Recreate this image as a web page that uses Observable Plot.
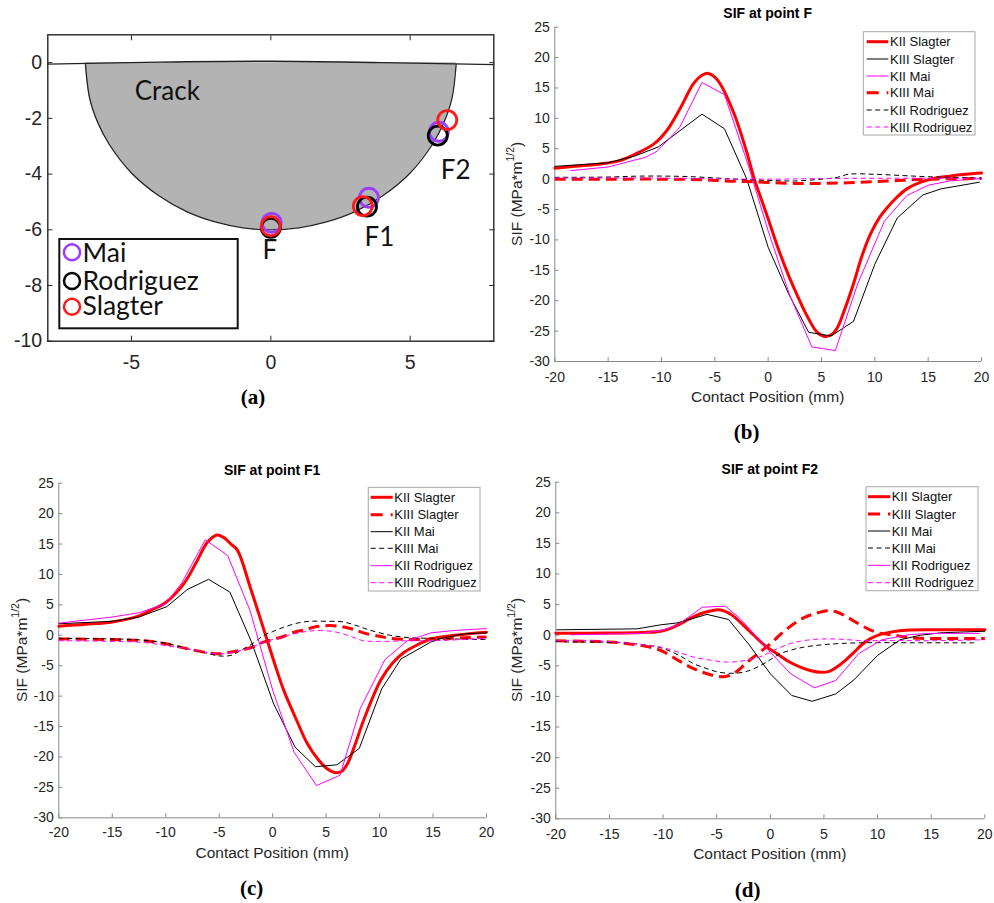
<!DOCTYPE html>
<html><head><meta charset="utf-8">
<script src="https://cdn.jsdelivr.net/npm/d3@7"></script>
<script src="https://cdn.jsdelivr.net/npm/@observablehq/plot@0.6"></script>
<style>
body{margin:0;background:#fff;}
#root{position:relative;width:994px;height:903px;overflow:hidden;background:#fff;}
.panel{position:absolute;}
.cap{position:absolute;font-family:"Liberation Serif","DejaVu Serif",serif;font-weight:bold;font-size:21px;line-height:1;transform:translate(-50%,-50%);color:#000;white-space:nowrap;}
</style></head><body><div id="root"></div>
<script>
// ---------------- DATA ----------------
// Panel (a): crack geometry and evaluation points
const aXTicks = [-5, 0, 5];
const aYTicks = [0, -2, -4, -6, -8, -10];
const crackX = [-6.65,-6.5,-6.2,-5.8,-5,-4,-3,-2,-1,0,1,2,3,4,5,5.8,6.2,6.5,6.65];
const crackY = [-0.05,-1.27,-2.17,-2.93,-3.96,-4.79,-5.36,-5.72,-5.93,-6.0,-5.93,-5.72,-5.36,-4.79,-3.96,-2.93,-2.17,-1.27,-0.05];
const surfaceX = [-8, -4, 0, 4, 8];
const surfaceY = [-0.05, 0.02, 0.05, 0.0, -0.07];
const pointNames = ["F", "F1", "F2"];
const maiX = [0.03, 3.52, 6.03],  maiY = [-5.75, -4.85, -2.48];
const rodX = [0.0, 3.45, 5.99],   rodY = [-5.93, -5.17, -2.62];
const slaX = [0.0, 3.3, 6.33],    slaY = [-5.87, -5.15, -2.06];
const pointLabelX = [-0.03, 3.9, 6.63];
const pointLabelY = [-6.74, -6.27, -3.86];
const crackLabel = ["Crack"], crackLabelX = [-4.88], crackLabelY = [-1.03];
const aLegendNames = ["Mai", "Rodriguez", "Slagter"];

// Panels (b)-(d): SIF vs contact position
const sifXTicks = [-20,-15,-10,-5,0,5,10,15,20];
const sifYTicks = [25,20,15,10,5,0,-5,-10,-15,-20,-25,-30];
const bNames = ["KII Slagter","KIII Slagter","KII Mai","KIII Mai","KII Rodriguez","KIII Rodriguez"];
const cdNames = ["KII Slagter","KIII Slagter","KII Mai","KIII Mai","KII Rodriguez","KIII Rodriguez"];
const titles = ["SIF at point F", "SIF at point F1", "SIF at point F2"];

// (b) point F
const b_KII_Slagter = [[-20,1.8],[-17.5,2.2],[-15.7,2.5],[-14,3.0],[-12.6,4.0],[-10.7,5.8],[-9.5,8.0],[-8.2,11.8],[-7,15.7],[-6.2,17.1],[-5.6,17.4],[-5.0,16.8],[-4.5,15.7],[-3.2,10.8],[-2.0,4.4],[-1.3,0],[-0.7,-3],[0,-6.5],[1,-11.7],[2,-16.2],[2.7,-19.0],[3.5,-22.0],[4.6,-25.2],[5.4,-25.9],[6,-25.5],[6.5,-24.4],[7.2,-21.3],[8,-17.2],[8.8,-12.6],[9.6,-9.0],[10.4,-6.4],[11.2,-4.6],[12,-3.1],[13,-1.6],[14.3,-0.5],[15.5,0.1],[17,0.5],[18.5,0.8],[20,1.0]];
const b_KIII_Slagter = [[-20,2.1],[-15,2.7],[-12.5,3.8],[-10.3,5.3],[-6.2,10.7],[-4.1,8.3],[-2.0,0.0],[0,-11.2],[1.9,-18.8],[3.8,-25.2],[5.9,-25.8],[8.0,-23.4],[10.0,-14.0],[12.1,-6.4],[14.5,-2.6],[16.2,-1.6],[19.8,-0.5]];
const b_KII_Mai = [[-18.5,1.4],[-15,2.0],[-11.5,3.6],[-10.4,4.6],[-8.3,8.5],[-6.2,15.9],[-4.1,13.9],[-2.0,3.0],[0,-8.5],[2.0,-19.0],[4.1,-27.6],[6.3,-28.2],[8.4,-17.2],[10.9,-6.9],[13.0,-2.7],[15.0,-1.0],[17,-0.3],[20,0.1]];
const b_KIII_Mai = [[-20,0.0],[-15,0.0],[-10,0.0],[-6,-0.1],[-4,-0.3],[-2,-0.4],[0,-0.55],[2.5,-0.7],[5,-0.7],[7.5,-0.6],[10,-0.4],[12.5,-0.2],[15,0.0],[20,0.1]];
const b_KII_Rodriguez = [[-20,0.3],[-15,0.35],[-12,0.5],[-8,0.45],[-5,0.2],[-3,0.0],[0,-0.2],[2.5,-0.3],[5,0.0],[6.5,0.3],[7.5,0.8],[10,0.8],[12.5,0.6],[15,0.4],[20,0.2]];
const b_KIII_Rodriguez = [[-20,0.2],[-15,0.2],[-10,0.15],[-5,0.05],[0,0.0],[5,0.1],[10,0.15],[15,0.15],[20,0.15]];

// (c) point F1
const c_KII_Slagter = [[-20,1.5],[-17.5,1.8],[-15,2.2],[-12.5,3.2],[-11.4,4.1],[-10,5.4],[-8.3,8.5],[-7.05,12.3],[-6.1,15.3],[-5.2,16.5],[-4.6,16.1],[-3.9,15.0],[-3.3,14.0],[-2.1,7.9],[-0.8,0.8],[0.4,-5.8],[1.05,-9.1],[2.2,-13.8],[3.24,-17.8],[4.2,-20.3],[5.1,-21.95],[5.9,-22.6],[6.5,-22.3],[7.0,-21.1],[7.7,-18.0],[8.5,-14.0],[10.1,-7.4],[11.2,-4.6],[12.3,-2.8],[13.5,-1.6],[14.8,-0.6],[17,0.0],[20,0.5]];
const c_KIII_Slagter = [[-20,-0.6],[-15,-0.7],[-12,-0.9],[-10,-1.4],[-8,-2.2],[-6,-2.9],[-5,-3.05],[-4,-2.8],[-2,-2.0],[-1,-1.2],[0,-0.7],[1,-0.2],[2,0.5],[3,0.9],[4,1.4],[5.4,1.6],[6.5,1.4],[7.5,1.0],[8.5,0.4],[10.1,-0.2],[11,-0.5],[13,-0.7],[15,-0.6],[18,-0.4],[20,-0.3]];
const c_KII_Mai = [[-20,1.9],[-15,2.3],[-12.5,3.0],[-9.9,4.7],[-8,7.5],[-6.0,9.2],[-4.0,7.1],[-2.0,-1.0],[0.1,-11.3],[2.1,-18.4],[4.0,-21.6],[6.0,-21.3],[8.1,-18.6],[10.2,-8.8],[12.0,-3.9],[14.8,-1.1],[16,-0.4],[18,0.25],[20,0.4]];
const c_KIII_Mai = [[-20,-0.5],[-15,-0.6],[-12.5,-0.75],[-10,-1.3],[-8,-2.2],[-6,-3.0],[-5,-3.4],[-3.9,-3.3],[-3,-2.5],[-2,-1.5],[-0.8,0.0],[0,0.6],[1,1.3],[2.3,2.0],[3.5,2.3],[5,2.3],[6.6,2.2],[8,1.5],[9,0.9],[11,0.0],[12.9,-0.4],[15,-0.5],[17,-0.6],[20,-0.7]];
const c_KII_Rodriguez = [[-20,2.0],[-15,3.0],[-12.5,3.7],[-10,5.2],[-8.5,8.6],[-6.3,15.7],[-4.2,13.1],[-2.1,4.0],[0,-9.0],[2.0,-19.2],[4.1,-24.7],[6.3,-23.0],[8.2,-12.0],[10.5,-4.0],[12.6,-0.9],[14.8,0.4],[17,0.8],[20,1.1]];
const c_KIII_Rodriguez = [[-20,-0.9],[-15,-1.0],[-12,-1.2],[-10,-1.7],[-8,-2.2],[-6,-2.9],[-5,-3.05],[-4,-2.9],[-2,-2.0],[-1,-1.2],[0,-0.7],[2,0.25],[3.5,0.7],[4.5,0.8],[6,0.5],[7.5,-0.3],[8.5,-0.9],[10,-1.0],[12.9,-0.9],[15,-0.9],[20,-0.5]];

// (d) point F2
const d_KII_Slagter = [[-20,0.33],[-15,0.35],[-12,0.45],[-10.2,0.65],[-9.3,1.1],[-8.4,1.86],[-7.5,2.7],[-6.5,3.5],[-5.5,4.0],[-4.8,4.15],[-4.2,3.9],[-3.5,3.2],[-2.5,1.6],[-1.5,-0.05],[-0.5,-1.7],[0.6,-3.0],[1.7,-4.3],[2.8,-5.2],[3.8,-5.8],[4.7,-6.05],[5.5,-5.9],[6.2,-5.2],[7.0,-4.1],[7.8,-2.8],[8.5,-1.6],[9.3,-0.6],[10.2,0.1],[11.2,0.5],[13,0.85],[15,0.9],[20,0.9]];
const d_KIII_Slagter = [[-20,-0.9],[-17,-1.0],[-15,-1.1],[-12,-1.7],[-10.2,-2.5],[-8.5,-4.2],[-7.1,-5.5],[-5.5,-6.5],[-4.2,-6.75],[-3.2,-6.0],[-2.15,-4.4],[-1,-2.8],[0,-1.4],[1,0.2],[2.2,1.86],[3.2,2.9],[4.1,3.5],[5.3,4.0],[6.2,3.8],[7.2,2.94],[8.3,1.8],[9.3,0.88],[10.3,0.3],[11.5,0.06],[12.5,-0.3],[14,-0.5],[17,-0.55],[20,-0.55]];
const d_KII_Mai = [[-19.9,0.88],[-12.4,1.04],[-10.2,1.7],[-8.7,2.0],[-5.9,3.4],[-3.9,2.57],[-2.0,-1.5],[0,-6.3],[2.0,-9.85],[3.9,-10.8],[6.1,-9.6],[7.8,-7.3],[10.0,-3.3],[12.1,-0.75],[14,0.0],[16,0.4],[20,0.65]];
const d_KIII_Mai = [[-20,-1.0],[-18.9,-1.1],[-15,-1.15],[-12.5,-1.4],[-10.2,-2.06],[-8.5,-3.3],[-7.1,-4.7],[-6,-5.4],[-4.8,-6.05],[-3.1,-6.2],[-2,-5.8],[-0.9,-4.95],[0,-4.0],[0.95,-3.0],[2,-2.4],[3.1,-1.96],[5.3,-1.5],[8.4,-1.24],[13,-1.24],[19,-1.25]];
const d_KII_Rodriguez = [[-18.6,0.06],[-15,0.2],[-12,0.3],[-10.2,0.77],[-8.7,1.6],[-6.35,4.57],[-4.2,4.74],[-2.8,2.7],[0,-2.8],[1.9,-6.3],[4.1,-8.6],[6.1,-7.4],[8.25,-3.0],[10.4,-0.75],[13,0.1],[15,0.3],[19.5,0.3]];
const d_KIII_Rodriguez = [[-20,-0.9],[-16.5,-0.9],[-13.3,-1.3],[-10.2,-1.96],[-8.5,-2.8],[-7.1,-3.6],[-5.5,-4.1],[-4,-4.4],[-3,-4.3],[-1.5,-3.85],[0,-2.8],[0.65,-2.2],[1.8,-1.4],[2.8,-0.98],[4,-0.7],[5.3,-0.6],[6.5,-0.65],[8.4,-0.87],[11.5,-0.87],[15,-0.9],[20,-0.75]];

// ---------------- STYLES / LAYOUT ----------------
const AXIS_GRAY = "#8a8a8a";
const TEXT = "#262626";
const SANS = "'Liberation Sans', Arial, sans-serif";
const fmt = d => String(d);
const ST = {
  redThick:   {stroke:"#ff0000", strokeWidth:3, curve:"catmull-rom", strokeLinecap:"round"},
  redDash:    {stroke:"#ff0000", strokeWidth:3, curve:"catmull-rom", strokeDasharray:"11,6", strokeLinecap:"butt", legendDash:"12,8"},
  black:      {stroke:"#000000", strokeWidth:1},
  blackDash:  {stroke:"#000000", strokeWidth:1, curve:"catmull-rom", strokeDasharray:"5,3.5", strokeLinecap:"butt", legendDash:"5,3.5"},
  magenta:    {stroke:"#ff00ff", strokeWidth:1},
  magentaDash:{stroke:"#ff00ff", strokeWidth:1, curve:"catmull-rom", strokeDasharray:"5,3.5", strokeLinecap:"butt", legendDash:"5,3.5"}
};
const bStyles = [ST.redThick, ST.black, ST.magenta, ST.redDash, ST.blackDash, ST.magentaDash];
const cdStyles = [ST.redThick, ST.redDash, ST.black, ST.blackDash, ST.magenta, ST.magentaDash];

const root = document.getElementById("root");
function place(el, left, top, w, h) {
  const div = document.createElement("div");
  div.className = "panel";
  div.style.left = left + "px"; div.style.top = top + "px";
  div.style.width = w + "px"; div.style.height = h + "px";
  div.appendChild(el); root.appendChild(div);
}
function caption(txt, cx, cy) {
  const d = document.createElement("div");
  d.className = "cap"; d.textContent = txt;
  d.style.left = cx + "px"; d.style.top = cy + "px";
  root.appendChild(d);
}

// ---------------- PANEL (a) ----------------
(function () {
  const crack = crackX.map((x, i) => ({x, y: crackY[i]}));
  const surf = surfaceX.map((x, i) => ({x, y: surfaceY[i]}));
  const pts = (X, Y) => X.map((x, i) => ({x, y: Y[i]}));
  const W = 497, H = 420;
  const svg = Plot.plot({
    width: W, height: H,
    marginLeft: 47.3, marginRight: 3.7, marginTop: 34.3, marginBottom: 79.3,
    style: {fontFamily: SANS, fontSize: "19.5px", color: TEXT, background: "transparent", overflow: "visible"},
    x: {domain: [-8, 8], axis: null},
    y: {domain: [-10, 1], axis: null},
    marks: [
      Plot.areaY(crack, {x: "x", y1: 0, y2: "y", fill: "#b3b3b3", curve: "catmull-rom"}),
      Plot.line(crack, {x: "x", y: "y", stroke: "#222", strokeWidth: 1.3, curve: "catmull-rom"}),
      Plot.line(surf, {x: "x", y: "y", stroke: "#222", strokeWidth: 1.3, curve: "catmull-rom"}),
      Plot.frame({stroke: "#262626", strokeWidth: 1.4}),
      Plot.axisX(aXTicks, {anchor: "bottom", tickSize: -5, tickPadding: 18.8, tickFormat: fmt, stroke: "#262626", fill: TEXT, fontSize: 19.5, label: null}),
      Plot.axisX(aXTicks, {anchor: "top", tickSize: -5, tickFormat: () => "", stroke: "#262626", label: null}),
      Plot.axisY(aYTicks, {anchor: "left", tickSize: -5, tickPadding: 10.6, tickFormat: fmt, stroke: "#262626", fill: TEXT, fontSize: 19.5, label: null}),
      Plot.axisY(aYTicks, {anchor: "right", tickSize: -5, tickFormat: () => "", stroke: "#262626", label: null}),
      Plot.dot(pts(maiX, maiY), {x: "x", y: "y", r: 9.5, stroke: "#9b3dff", strokeWidth: 2.8, fill: "none"}),
      Plot.dot(pts(rodX, rodY), {x: "x", y: "y", r: 9.5, stroke: "#000000", strokeWidth: 2.8, fill: "none"}),
      Plot.dot(pts(slaX, slaY), {x: "x", y: "y", r: 9.5, stroke: "#ff1a1a", strokeWidth: 2.8, fill: "none"}),
      Plot.text(crackLabel, {x: crackLabelX, y: crackLabelY, text: d => d, fill: "#111", fontSize: 26, fontFamily: "Lato", textAnchor: "start"}),
      Plot.text(pointNames, {x: pointLabelX, y: pointLabelY, text: d => d, fill: "#111", fontSize: 26, fontFamily: "Lato"})
    ]
  });
  // legend box
  const s = d3.select(svg);
  const g = s.append("g").attr("text-anchor", "start");
  g.append("rect").attr("x", 59.3).attr("y", 239).attr("width", 178.4).attr("height", 89.3)
    .attr("fill", "#fff").attr("stroke", "#111").attr("stroke-width", 2);
  const legColors = ["#9b3dff", "#000000", "#ff1a1a"];
  const rowsC = [252.3, 281, 306.7], rowsT = [262.3, 290, 315];
  aLegendNames.forEach((n, i) => {
    g.append("circle").attr("cx", 72).attr("cy", rowsC[i]).attr("r", 8).attr("fill", "none")
      .attr("stroke", legColors[i]).attr("stroke-width", 2.5);
    g.append("text").attr("x", 82.5).attr("y", rowsT[i]).attr("text-anchor", "start").attr("font-family", "Lato").attr("font-size", 26.5)
      .attr("fill", "#111").text(n);
  });
  place(svg, 0, 0, W, H);
})();

// ---------------- PANELS (b)-(d) ----------------
function sifPanel(cfg) {
  const marks = [
    Plot.ruleX([-20], {stroke: AXIS_GRAY, strokeWidth: 1}),
    Plot.ruleY([-30], {stroke: AXIS_GRAY, strokeWidth: 1}),
    Plot.axisX(sifXTicks, {anchor: "bottom", tickSize: -4, tickPadding: cfg.xPad, tickFormat: fmt, stroke: AXIS_GRAY, fill: TEXT, fontSize: 14, label: null}),
    Plot.axisY(sifYTicks, {anchor: "left", tickSize: -4, tickPadding: 9, tickFormat: fmt, stroke: AXIS_GRAY, fill: TEXT, fontSize: 14, label: null})
  ];
  cfg.series.forEach((data, i) => {
    const {legendDash, ...st} = cfg.styles[i];
    marks.push(Plot.line(data, {x: d => d[0], y: d => d[1], ...st}));
  });
  const svg = Plot.plot({
    width: cfg.W, height: cfg.H,
    marginLeft: cfg.mL, marginRight: cfg.mR, marginTop: cfg.mT, marginBottom: cfg.mB,
    style: {fontFamily: SANS, fontSize: "14px", color: TEXT, background: "transparent", overflow: "visible"},
    x: {domain: [-20, 20], axis: null},
    y: {domain: [-30, 25], axis: null},
    marks
  });
  const s = d3.select(svg);
  const cx = cfg.mL + (cfg.W - cfg.mL - cfg.mR) / 2;
  const cy = cfg.mT + (cfg.H - cfg.mT - cfg.mB) / 2;
  // title
  s.append("text").attr("x", cx).attr("y", cfg.titleY).attr("dy", "0.35em").attr("text-anchor", "middle")
    .attr("font-family", SANS).attr("font-weight", "bold").attr("font-size", 14).attr("fill", "#000").text(cfg.title);
  // x label
  s.append("text").attr("x", cx).attr("y", cfg.xLabelY).attr("dy", "0.35em").attr("text-anchor", "middle")
    .attr("font-family", SANS).attr("font-size", 15.5).attr("fill", TEXT).text("Contact Position (mm)");
  // y label with superscript
  const yl = s.append("text").attr("transform", `translate(${cfg.yLabelX},${cy}) rotate(-90)`)
    .attr("dy", "0.35em").attr("text-anchor", "middle")
    .attr("font-family", SANS).attr("font-size", 15.5).attr("fill", TEXT);
  yl.append("tspan").text("SIF (MPa*m");
  yl.append("tspan").attr("font-size", 10.5).attr("dy", "-0.75em").text("1/2");
  yl.append("tspan").attr("dy", "0.5em").text(")");
  // legend
  const L = cfg.legend;
  const g = s.append("g").attr("text-anchor", "start");
  g.append("rect").attr("x", L.box[0]).attr("y", L.box[1]).attr("width", L.box[2] - L.box[0]).attr("height", L.box[3] - L.box[1])
    .attr("fill", "#fff").attr("stroke", "#a8a8a8").attr("stroke-width", 1);
  cfg.names.forEach((n, i) => {
    const st = cfg.styles[i];
    g.append("line").attr("x1", L.lx0).attr("x2", L.lx1).attr("y1", L.rows[i]).attr("y2", L.rows[i])
      .attr("stroke", st.stroke).attr("stroke-width", st.strokeWidth)
      .attr("stroke-dasharray", st.legendDash || null).attr("stroke-linecap", "butt");
    g.append("text").attr("x", L.tx).attr("y", L.rows[i]).attr("dy", "0.36em").attr("text-anchor", "start").attr("font-family", SANS)
      .attr("font-size", 13).attr("fill", "#111").text(n);
  });
  place(svg, cfg.left, cfg.top, cfg.W, cfg.H);
}

sifPanel({
  left: 500, top: 0, W: 494, H: 420, mL: 54.3, mR: 13, mT: 26.7, mB: 59, xPad: 14.8,
  title: titles[0], titleY: 13.3, xLabelY: 396.7, yLabelX: 16.7,
  series: [b_KII_Slagter, b_KIII_Slagter, b_KII_Mai, b_KIII_Mai, b_KII_Rodriguez, b_KIII_Rodriguez],
  styles: bStyles, names: bNames,
  legend: {box: [363.3, 31.7, 475, 135], rows: [41.7, 59, 76, 92.7, 110, 127], lx0: 366.7, lx1: 388.3, tx: 390}
});
sifPanel({
  left: 0, top: 440, W: 497, H: 440, mL: 58.3, mR: 11, mT: 42.7, mB: 62.7, xPad: 13.5,
  title: titles[1], titleY: 30, xLabelY: 412.7, yLabelX: 21.7,
  series: [c_KII_Slagter, c_KIII_Slagter, c_KII_Mai, c_KIII_Mai, c_KII_Rodriguez, c_KIII_Rodriguez],
  styles: cdStyles, names: cdNames,
  legend: {box: [368.3, 47.3, 480, 151], rows: [57.3, 74.7, 91.7, 108.3, 125.7, 142.7], lx0: 370.7, lx1: 392.7, tx: 394.3}
});
sifPanel({
  left: 497, top: 440, W: 497, H: 440, mL: 58.3, mR: 9.7, mT: 41.7, mB: 61.7, xPad: 14,
  title: titles[2], titleY: 29.3, xLabelY: 413.3, yLabelX: 20,
  series: [d_KII_Slagter, d_KIII_Slagter, d_KII_Mai, d_KIII_Mai, d_KII_Rodriguez, d_KIII_Rodriguez],
  styles: cdStyles, names: cdNames,
  legend: {box: [369, 46.7, 481, 150.7], rows: [56.7, 74, 91, 108, 125.3, 142.7], lx0: 371, lx1: 393.3, tx: 394.7}
});

caption("(a)", 253, 397);
caption("(b)", 746.7, 431.7);
caption("(c)", 251.7, 888.3);
caption("(d)", 747.7, 890);
</script></body></html>
